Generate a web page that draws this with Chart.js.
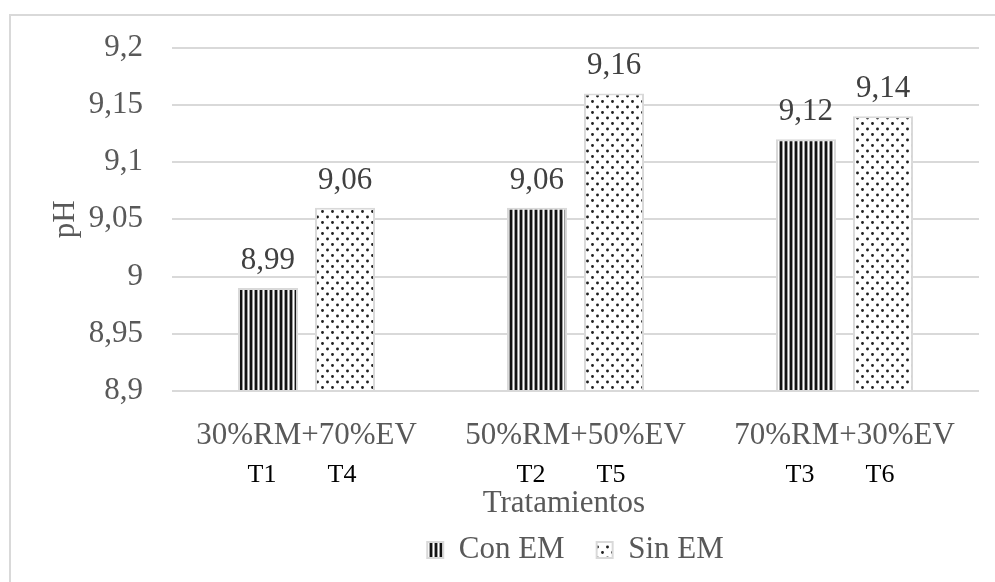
<!DOCTYPE html>
<html>
<head>
<meta charset="utf-8">
<script src="https://cdn.jsdelivr.net/npm/chart.js@4"></script>
<style>
  html, body { margin: 0; padding: 0; background: #fff; overflow: hidden; }
  #frame {
    position: absolute; left: 9px; top: 14px;
    width: 1000px; height: 600px;
    border: 2px solid #d9d9d9;
  }
  #chart { position: absolute; left: 0; top: 0; }
</style>
</head>
<body>
<div id="frame"></div>
<canvas id="chart" width="995" height="582"></canvas>
<script>
const categories = ["30%RM+70%EV", "50%RM+50%EV", "70%RM+30%EV"];
const conEM = [8.99, 9.06, 9.12];
const sinEM = [9.06, 9.16, 9.14];
const conTreatments = ["T1", "T2", "T3"];
const sinTreatments = ["T4", "T5", "T6"];
const yMin = 8.9;
const yMax = 9.2;
const yStep = 0.05;

const serif = "'Liberation Serif', 'Times New Roman', serif";
const gray = "#595959";
const lineGray = "#d9d9d9";

function fmt(v) {
  return String(Math.round(v * 100) / 100).replace(".", ",");
}

function stripePattern() {
  const c = document.createElement("canvas");
  c.width = 5;
  c.height = 4;
  const g = c.getContext("2d");
  g.fillStyle = "#ffffff";
  g.fillRect(0, 0, 5, 4);
  g.fillStyle = "#141414";
  g.fillRect(0, 0, 2, 4);
  g.fillStyle = "#9a9a9a";
  g.fillRect(2, 0, 1, 4);
  g.fillRect(4, 0, 1, 4);
  return g.createPattern(c, "repeat");
}

function dotPattern() {
  const c = document.createElement("canvas");
  c.width = 10;
  c.height = 11;
  const g = c.getContext("2d");
  g.fillStyle = "#ffffff";
  g.fillRect(0, 0, 10, 11);
  g.fillStyle = "#1f1f1f";
  g.beginPath();
  g.arc(2.5, 2.5, 1.45, 0, Math.PI * 2);
  g.moveTo(8.95, 8);
  g.arc(7.5, 8, 1.45, 0, Math.PI * 2);
  g.fill();
  return g.createPattern(c, "repeat");
}

// value labels above bars + treatment codes under the category labels
const barTexts = {
  id: "barTexts",
  afterDatasetsDraw(chart) {
    const ctx = chart.ctx;
    const treatments = [conTreatments, sinTreatments];
    const shift = [-6, -3];
    ctx.save();
    ctx.textAlign = "center";
    ctx.textBaseline = "alphabetic";
    chart.data.datasets.forEach((ds, i) => {
      chart.getDatasetMeta(i).data.forEach((bar, j) => {
        ctx.font = "31px " + serif;
        ctx.fillStyle = "#404040";
        ctx.fillText(fmt(ds.data[j]), bar.x, bar.y - 19);
        ctx.font = "26px " + serif;
        ctx.fillStyle = "#000000";
        ctx.fillText(treatments[i][j], bar.x + shift[i], chart.chartArea.bottom + 91);
      });
    });
    ctx.restore();
  }
};

new Chart(document.getElementById("chart"), {
  type: "bar",
  data: {
    labels: categories,
    datasets: [
      {
        label: "Con EM",
        data: conEM,
        base: yMin,
        backgroundColor: stripePattern(),
        borderColor: lineGray,
        borderWidth: 2,
        categoryPercentage: 0.5725,
        barPercentage: 0.78
      },
      {
        label: "Sin EM",
        data: sinEM,
        base: yMin,
        backgroundColor: dotPattern(),
        borderColor: lineGray,
        borderWidth: 2,
        categoryPercentage: 0.5725,
        barPercentage: 0.78
      }
    ]
  },
  options: {
    responsive: false,
    animation: false,
    devicePixelRatio: 1,
    layout: {
      padding: { top: 46.5, left: 10, right: 16, bottom: 6.5 }
    },
    plugins: {
      tooltip: { enabled: false },
      legend: {
        position: "bottom",
        fullSize: false,
        labels: {
          color: gray,
          font: { family: serif, size: 31 },
          boxWidth: 16,
          boxHeight: 16,
          padding: 32
        }
      }
    },
    scales: {
      x: {
        grid: { display: false },
        border: { display: false },
        ticks: {
          color: gray,
          font: { family: serif, size: 31 },
          padding: 18,
          maxRotation: 0
        },
        title: {
          display: true,
          text: "Tratamientos   ",
          color: gray,
          font: { family: serif, size: 31 },
          padding: { top: 0, bottom: -20 }
        },
        afterFit(scale) {
          scale.height = 111.5;
        }
      },
      y: {
        min: yMin,
        max: yMax,
        grid: { color: lineGray, lineWidth: 2, drawTicks: false },
        border: { display: false },
        ticks: {
          stepSize: yStep,
          color: gray,
          font: { family: serif, size: 31 },
          padding: 29,
          callback: (v) => fmt(v)
        },
        title: {
          display: true,
          text: "pH",
          color: gray,
          font: { family: serif, size: 31 },
          padding: { top: 37.4, bottom: 0 }
        },
        afterFit(scale) {
          scale.width = 162;
        }
      }
    }
  },
  plugins: [barTexts]
});
</script>
</body>
</html>
